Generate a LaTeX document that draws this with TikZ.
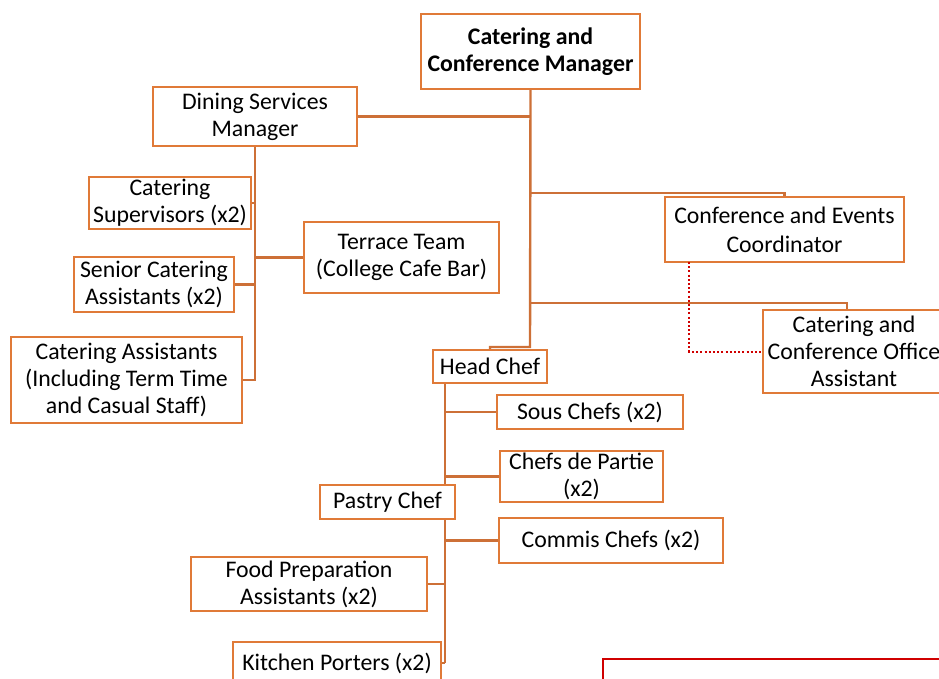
\documentclass[tikz,border=0pt]{standalone}
\usepackage{fontspec}
\setmainfont{Carlito}
\usetikzlibrary{backgrounds}
\definecolor{boxor}{RGB}{224,122,56}
\definecolor{lineor}{RGB}{205,112,55}
\definecolor{dotred}{RGB}{208,0,0}
\tikzset{
  orgbox/.style={draw=boxor, line width=2.2pt, fill=white, inner sep=0pt, align=center,
    font=\fontsize{23.8}{27}\selectfont},
  conn/.style={draw=lineor, line width=2.4pt},
  dotconn/.style={draw=dotred, line width=2pt, dash pattern=on 2pt off 2.2pt},
}
\begin{document}
\begin{tikzpicture}[x=1pt,y=-1pt]
\useasboundingbox (0,0) rectangle (939,679);
\clip (0,0) rectangle (939,679);
% nodes
\node[orgbox, minimum width=219pt, minimum height=75pt, font=\fontsize{23.8}{27}\selectfont\bfseries] (ccm) at (530.5,51.5) {Catering and\\Conference Manager};
\node[orgbox, minimum width=204pt, minimum height=59pt] (dsm) at (255,116.5) {Dining Services\\Manager};
\node[orgbox, minimum width=162pt, minimum height=52pt] (sup) at (170,203) {Catering\\Supervisors (x2)};
\node[orgbox, minimum width=160pt, minimum height=55pt] (sen) at (154,284.5) {Senior Catering\\Assistants (x2)};
\node[orgbox, minimum width=231pt, minimum height=86pt] (ca) at (126.5,380) {Catering Assistants\\(Including Term Time\\and Casual Staff)};
\node[orgbox, minimum width=195pt, minimum height=71pt] (ter) at (401.5,257.5) {Terrace Team\\(College Cafe Bar)};
\node[orgbox, minimum width=239pt, minimum height=65pt, font=\fontsize{23.8}{29}\selectfont] (coord) at (784.5,229.5) {Conference and Events\\Coordinator};
\node[orgbox, minimum width=182pt, minimum height=83pt] (office) at (854,351.5) {Catering and\\Conference Office\\Assistant};
\node[orgbox, minimum width=114pt, minimum height=33pt] (head) at (490,366.5) {Head Chef};
\node[orgbox, minimum width=186pt, minimum height=34pt] (sous) at (590,412) {Sous Chefs (x2)};
\node[orgbox, minimum width=163pt, minimum height=51pt] (cdp) at (581.5,476.5) {Chefs de Partie\\(x2)};
\node[orgbox, minimum width=135pt, minimum height=34pt] (pastry) at (387.5,502) {Pastry Chef};
\node[orgbox, minimum width=224pt, minimum height=45pt] (commis) at (611,540.5) {Commis Chefs (x2)};
\node[orgbox, minimum width=236pt, minimum height=54pt] (food) at (309,584) {Food Preparation\\Assistants (x2)};
\node[orgbox, minimum width=208pt, minimum height=42pt] (kp) at (337,663) {Kitchen Porters (x2)};
% red box
\draw[draw=dotred, line width=1.8pt] (603,700) -- (603,659) -- (960,659);
% coordinates
\coordinate (mj) at (530,347);
\coordinate (cb) at (530,193);
\coordinate (ob) at (530,303);
\coordinate (od) at (847,303);
\coordinate (dt) at (255,381);
\coordinate (ht) at (445,383);
\coordinate (hb) at (445,485);
\coordinate (pb) at (445,519);
\coordinate (pe) at (445,663);
\coordinate (dc) at (689,262);
\coordinate (dk) at (689,351.5);
\begin{scope}[on background layer]
\draw[conn] (ccm.south) -- (mj) -| (head.north);
\draw[conn] (dsm.east) -- (dsm.east -| mj);
\draw[conn] (cb) -| (coord.north);
\draw[conn] (ob) -- (od) -- (od |- office.north);
\draw[conn] (dsm.south) -- (dt);
\draw[conn] (sup.east) -- (sup.east -| dt);
\draw[conn] (sen.east) -- (sen.east -| dt);
\draw[conn] (ca.east) -- (ca.east -| dt);
\draw[conn] (ter.west) -- (ter.west -| dt);
\draw[conn] (ht) -- (hb);
\draw[conn] (sous.west) -- (sous.west -| ht);
\draw[conn] (cdp.west) -- (cdp.west -| ht);
\draw[conn] (pb) -- (pe);
\draw[conn] (commis.west) -- (commis.west -| ht);
\draw[conn] (food.east) -- (food.east -| ht);
\draw[conn] (kp.east) -- (pe);
\end{scope}
\draw[dotconn] (dc) -- (dk) -- (office.west);
\end{tikzpicture}
\end{document}
